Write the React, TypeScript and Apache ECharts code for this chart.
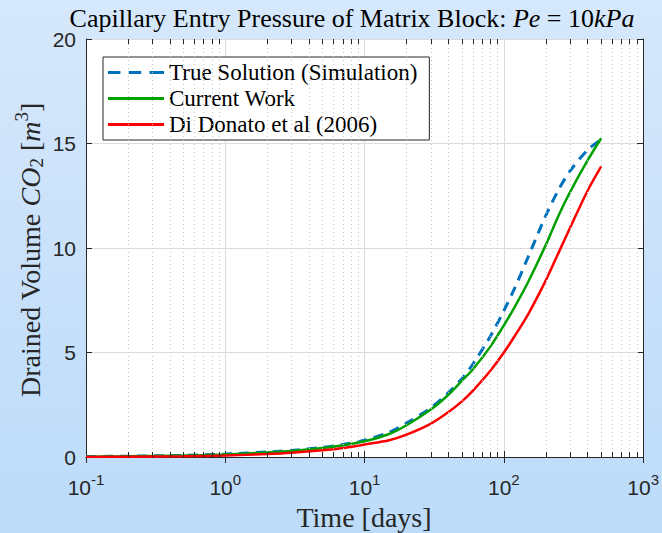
import React, { useEffect, useRef } from "react";
import * as echarts from "echarts";

// ---- data ----
const timeDays = [0.1, 0.2, 0.5, 1, 2, 3, 5, 7, 10, 15, 20, 30, 40, 50, 60, 80, 100, 120, 150, 200, 250, 300, 400, 500];
const trueSolution = [0.02, 0.04, 0.08, 0.14, 0.24, 0.31, 0.46, 0.6, 0.8, 1.18, 1.62, 2.36, 3.08, 3.75, 4.45, 5.78, 7.0, 8.1, 9.6, 11.55, 12.85, 13.7, 14.7, 15.2];
const currentWork = [0.01, 0.03, 0.07, 0.12, 0.22, 0.29, 0.43, 0.56, 0.75, 1.1, 1.52, 2.28, 2.98, 3.65, 4.2, 5.28, 6.3, 7.2, 8.4, 10.15, 11.63, 12.7, 14.2, 15.25];
const diDonato = [0.005, 0.012, 0.035, 0.07, 0.14, 0.2, 0.32, 0.43, 0.6, 0.8, 1.07, 1.6, 2.15, 2.66, 3.18, 4.13, 5.0, 5.8, 6.85, 8.45, 9.85, 10.99, 12.75, 13.9];

const seriesNames = ["True Solution (Simulation)", "Current Work", "Di Donato et al (2006)"];
const decades = [0.1, 1, 10, 100];
const minorMultipliers = [2, 3, 4, 5, 6, 7, 8, 9];
const xMin = 0.1;
const xMax = 1000;
const yMin = 0;
const yMax = 20;
const yStep = 5;

const SERIF = "'Liberation Serif', 'Times New Roman', serif";
const SANS = "'Liberation Sans', Arial, Helvetica, sans-serif";
const AXIS_COLOR = "#262626";
const BLUE = "#0072BD";
const GREEN = "#00A000";
const RED = "#FF0000";

// legend icons (line samples): dashed for the simulation, solid for the others
const DASH_ICON = "path://M0,0h12v3h-12z M20,0h12v3h-12z M40,0h14v3h-14z";
const SOLID_ICON = "path://M0,0h54v3h-54z";

export default function App() {
  const ref = useRef<HTMLDivElement>(null);

  useEffect(() => {
    document.body.style.margin = "0";
    const chart = echarts.init(ref.current as HTMLDivElement, null, { renderer: "svg" });

    const minorX = decades.flatMap((d) => minorMultipliers.map((m) => +(d * m).toPrecision(3)));
    const tickLen = 0.24; // in y data units (~5px)

    const minorGrid = minorX.map((v) => ({ xAxis: v }));
    const minorTicks: any[] = [];
    minorX.forEach((v) => {
      minorTicks.push([{ coord: [v, yMin] }, { coord: [v, yMin + tickLen] }]);
      minorTicks.push([{ coord: [v, yMax] }, { coord: [v, yMax - tickLen] }]);
    });

    const mk = (vals: number[]) => timeDays.map((t, i) => [t, vals[i]]);

    const lineSeries = (name: string, vals: number[], color: string, width: number, type: any) => ({
      name,
      type: "line",
      data: mk(vals),
      showSymbol: false,
      symbol: "none",
      smooth: 0.3,
      z: 3,
      lineStyle: { color, width, type },
      itemStyle: { color },
    });

    const option: any = {
      animation: false,
      backgroundColor: "transparent",
      grid: {
        left: 86,
        right: 18,
        top: 39,
        bottom: 76,
        show: true,
        backgroundColor: "#ffffff",
        borderWidth: 0,
      },
      legend: {
        data: [
          { name: seriesNames[0], icon: DASH_ICON, itemStyle: { color: BLUE } },
          { name: seriesNames[1], icon: SOLID_ICON, itemStyle: { color: GREEN } },
          { name: seriesNames[2], icon: SOLID_ICON, itemStyle: { color: RED } },
        ],
        orient: "vertical",
        left: 103,
        top: 57,
        backgroundColor: "#ffffff",
        borderColor: AXIS_COLOR,
        borderWidth: 1,
        borderRadius: 0,
        padding: [4, 12, 4, 5],
        itemGap: 3,
        itemWidth: 56,
        itemHeight: 3,
        symbolKeepAspect: false,
        textStyle: { fontFamily: SERIF, fontSize: 23, color: "#000" },
        selectedMode: false,
      },
      xAxis: [
        {
          type: "log",
          logBase: 10,
          min: xMin,
          max: xMax,
          position: "bottom",
          axisLine: { show: true, lineStyle: { color: AXIS_COLOR, width: 1 } },
          axisTick: { show: true, inside: true, length: 6, lineStyle: { color: AXIS_COLOR } },
          axisLabel: {
            color: AXIS_COLOR,
            fontFamily: SANS,
            fontSize: 21,
            margin: 15,
            formatter: (v: number) => `10{sup|${Math.round(Math.log10(v))}}`,
            rich: {
              sup: { fontFamily: SANS, fontSize: 15, color: AXIS_COLOR, padding: [0, 0, 16, 0] },
            },
          },
          splitLine: { show: true, lineStyle: { color: "#dcdcdc", width: 1 } },
        },
        {
          type: "log",
          logBase: 10,
          min: xMin,
          max: xMax,
          position: "top",
          axisLine: { show: true, lineStyle: { color: AXIS_COLOR, width: 1 } },
          axisTick: { show: true, inside: true, length: 6, lineStyle: { color: AXIS_COLOR } },
          axisLabel: { show: false },
          splitLine: { show: false },
        },
      ],
      yAxis: [
        {
          type: "value",
          min: yMin,
          max: yMax,
          interval: yStep,
          position: "left",
          axisLine: { show: true, lineStyle: { color: AXIS_COLOR, width: 1 } },
          axisTick: { show: true, inside: true, length: 6, lineStyle: { color: AXIS_COLOR } },
          axisLabel: { color: AXIS_COLOR, fontFamily: SANS, fontSize: 21, margin: 10 },
          splitLine: { show: true, lineStyle: { color: "#dcdcdc", width: 1 } },
        },
        {
          type: "value",
          min: yMin,
          max: yMax,
          interval: yStep,
          position: "right",
          axisLine: { show: true, lineStyle: { color: AXIS_COLOR, width: 1 } },
          axisTick: { show: true, inside: true, length: 6, lineStyle: { color: AXIS_COLOR } },
          axisLabel: { show: false },
          splitLine: { show: false },
        },
      ],
      series: [
        {
          name: "__minor",
          type: "line",
          data: [],
          z: 1,
          silent: true,
          symbol: "none",
          markLine: {
            silent: true,
            symbol: ["none", "none"],
            label: { show: false },
            lineStyle: { type: [1, 3], color: "#c4c4c4", width: 1 },
            emphasis: { disabled: true },
            data: minorGrid,
          },
        },
        {
          name: "__minorTicks",
          type: "line",
          data: [],
          z: 5,
          silent: true,
          symbol: "none",
          markLine: {
            silent: true,
            symbol: ["none", "none"],
            label: { show: false },
            lineStyle: { type: "solid", color: AXIS_COLOR, width: 1 },
            emphasis: { disabled: true },
            data: minorTicks,
          },
        },
        lineSeries(seriesNames[0], trueSolution, BLUE, 3, [10, 7]),
        lineSeries(seriesNames[1], currentWork, GREEN, 2.5, "solid"),
        lineSeries(seriesNames[2], diDonato, RED, 2.5, "solid"),
      ],
      graphic: [
        {
          type: "text",
          x: 352,
          y: 18,
          silent: true,
          style: {
            text: "Capillary Entry Pressure of Matrix Block: {i|Pe} = 10{i|kPa}",
            fontFamily: SERIF,
            fontSize: 26,
            fill: "#000",
            align: "center",
            verticalAlign: "middle",
            rich: {
              i: { fontFamily: SERIF, fontSize: 26, fontStyle: "italic", fill: "#000" },
            },
          },
        },
        {
          type: "text",
          x: 364,
          y: 517,
          silent: true,
          style: {
            text: "Time [days]",
            fontFamily: SERIF,
            fontSize: 28,
            fill: "#262626",
            align: "center",
            verticalAlign: "middle",
          },
        },
        {
          type: "text",
          x: 30,
          y: 250,
          rotation: Math.PI / 2,
          silent: true,
          style: {
            text: "Drained Volume {i|CO}{sub|2} [{i|m}{sup|3}]",
            fontFamily: SERIF,
            fontSize: 28,
            fill: "#262626",
            align: "center",
            verticalAlign: "middle",
            rich: {
              i: { fontFamily: SERIF, fontSize: 28, fontStyle: "italic", fill: "#262626" },
              sub: { fontFamily: SERIF, fontSize: 19, fill: "#262626", padding: [12, 0, 0, 0] },
              sup: { fontFamily: SERIF, fontSize: 19, fill: "#262626", padding: [0, 0, 18, 0] },
            },
          },
        },
      ],
    };

    chart.setOption(option);
    return () => chart.dispose();
  }, []);

  return (
    <div
      ref={ref}
      style={{
        position: "absolute",
        left: 0,
        top: 0,
        width: 662,
        height: 533,
        background: "linear-gradient(180deg, #d6e8fb 0%, #c9e1fa 50%, #bcdcfa 100%)",
      }}
    />
  );
}
